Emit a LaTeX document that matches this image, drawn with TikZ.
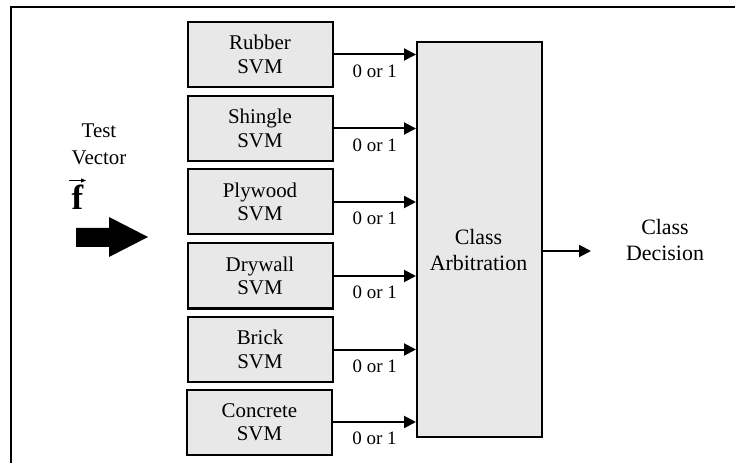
\documentclass[tikz,border=0pt]{standalone}
\usepackage{fontspec}
\setmainfont{Liberation Serif}
\usetikzlibrary{arrows.meta}
\definecolor{boxfill}{RGB}{232,232,232}
\begin{document}
\begin{tikzpicture}[x=1bp,y=-1bp,
  svmbox/.style={draw,line width=2bp,fill=boxfill,minimum width=145bp,minimum height=65bp,
    inner sep=0pt,align=center,font=\fontsize{21}{23.5}\selectfont},
  arbbox/.style={draw,line width=2bp,fill=boxfill,minimum width=125bp,minimum height=395bp,inner sep=0pt},
  bigtext/.style={align=center,font=\fontsize{22}{26.5}\selectfont,inner sep=0pt},
  outlabel/.style={anchor=north,inner sep=0pt,font=\fontsize{19}{21}\selectfont},
  conn/.style={line width=2bp,-{Triangle[length=12bp,width=12bp]}},
  vecarrow/.style={line width=1bp,-{Triangle[length=5bp,width=4bp]}},
  frameline/.style={line width=2bp}]
\useasboundingbox (0,0) rectangle (735,463);
% frame (top and left edges)
\coordinate (fTL) at (10.5,7.5);
\coordinate (fTR) at (735,7.5);
\coordinate (fBL) at (10.5,463);
\draw[frameline] (fTR) -- (fTL) -- (fBL);
% input
\node[bigtext,font=\fontsize{21}{27}\selectfont] (tv) at (99,144) {Test\\Vector};
\node[inner sep=0pt,anchor=base,font=\fontsize{35}{37}\selectfont\bfseries] (fv) at (77.5,210) {f};
\coordinate (va) at (69,180.5);
\coordinate (vb) at (86,180.5);
\draw[vecarrow] (va) -- (vb);
\fill (76,228) -- (109,228) -- (109,217) -- (148,237) -- (109,257) -- (109,247) -- (76,247) -- cycle;
% SVM boxes
\node[svmbox] (s1) at (260,54.5) {Rubber\\SVM};
\node[svmbox] (s2) at (260,128.5) {Shingle\\SVM};
\node[svmbox] (s3) at (260,202) {Plywood\\SVM};
\node[svmbox] (s4) at (260,276) {Drywall\\SVM};
\node[svmbox] (s5) at (260,349.5) {Brick\\SVM};
\node[svmbox] (s6) at (259.5,422) {Concrete\\SVM};
% arbitration
\node[arbbox] (arb) at (479.5,239.5) {};
\node[bigtext] (arbtext) at (478.5,250) {Class\\Arbitration};
% connectors
\foreach \i in {1,...,6}{
  \draw[conn] (s\i.east) -- (s\i.east -| arb.west)
    coordinate[pos=0.5] (m\i);
  \node[outlabel] (l\i) at ([yshift=-10bp]m\i) {0 or 1};
}
\coordinate (outend) at (591,251);
\draw[conn] (arb.east |- outend) -- (outend);
\node[bigtext] (dec) at (665,240) {Class\\Decision};
\end{tikzpicture}
\end{document}
